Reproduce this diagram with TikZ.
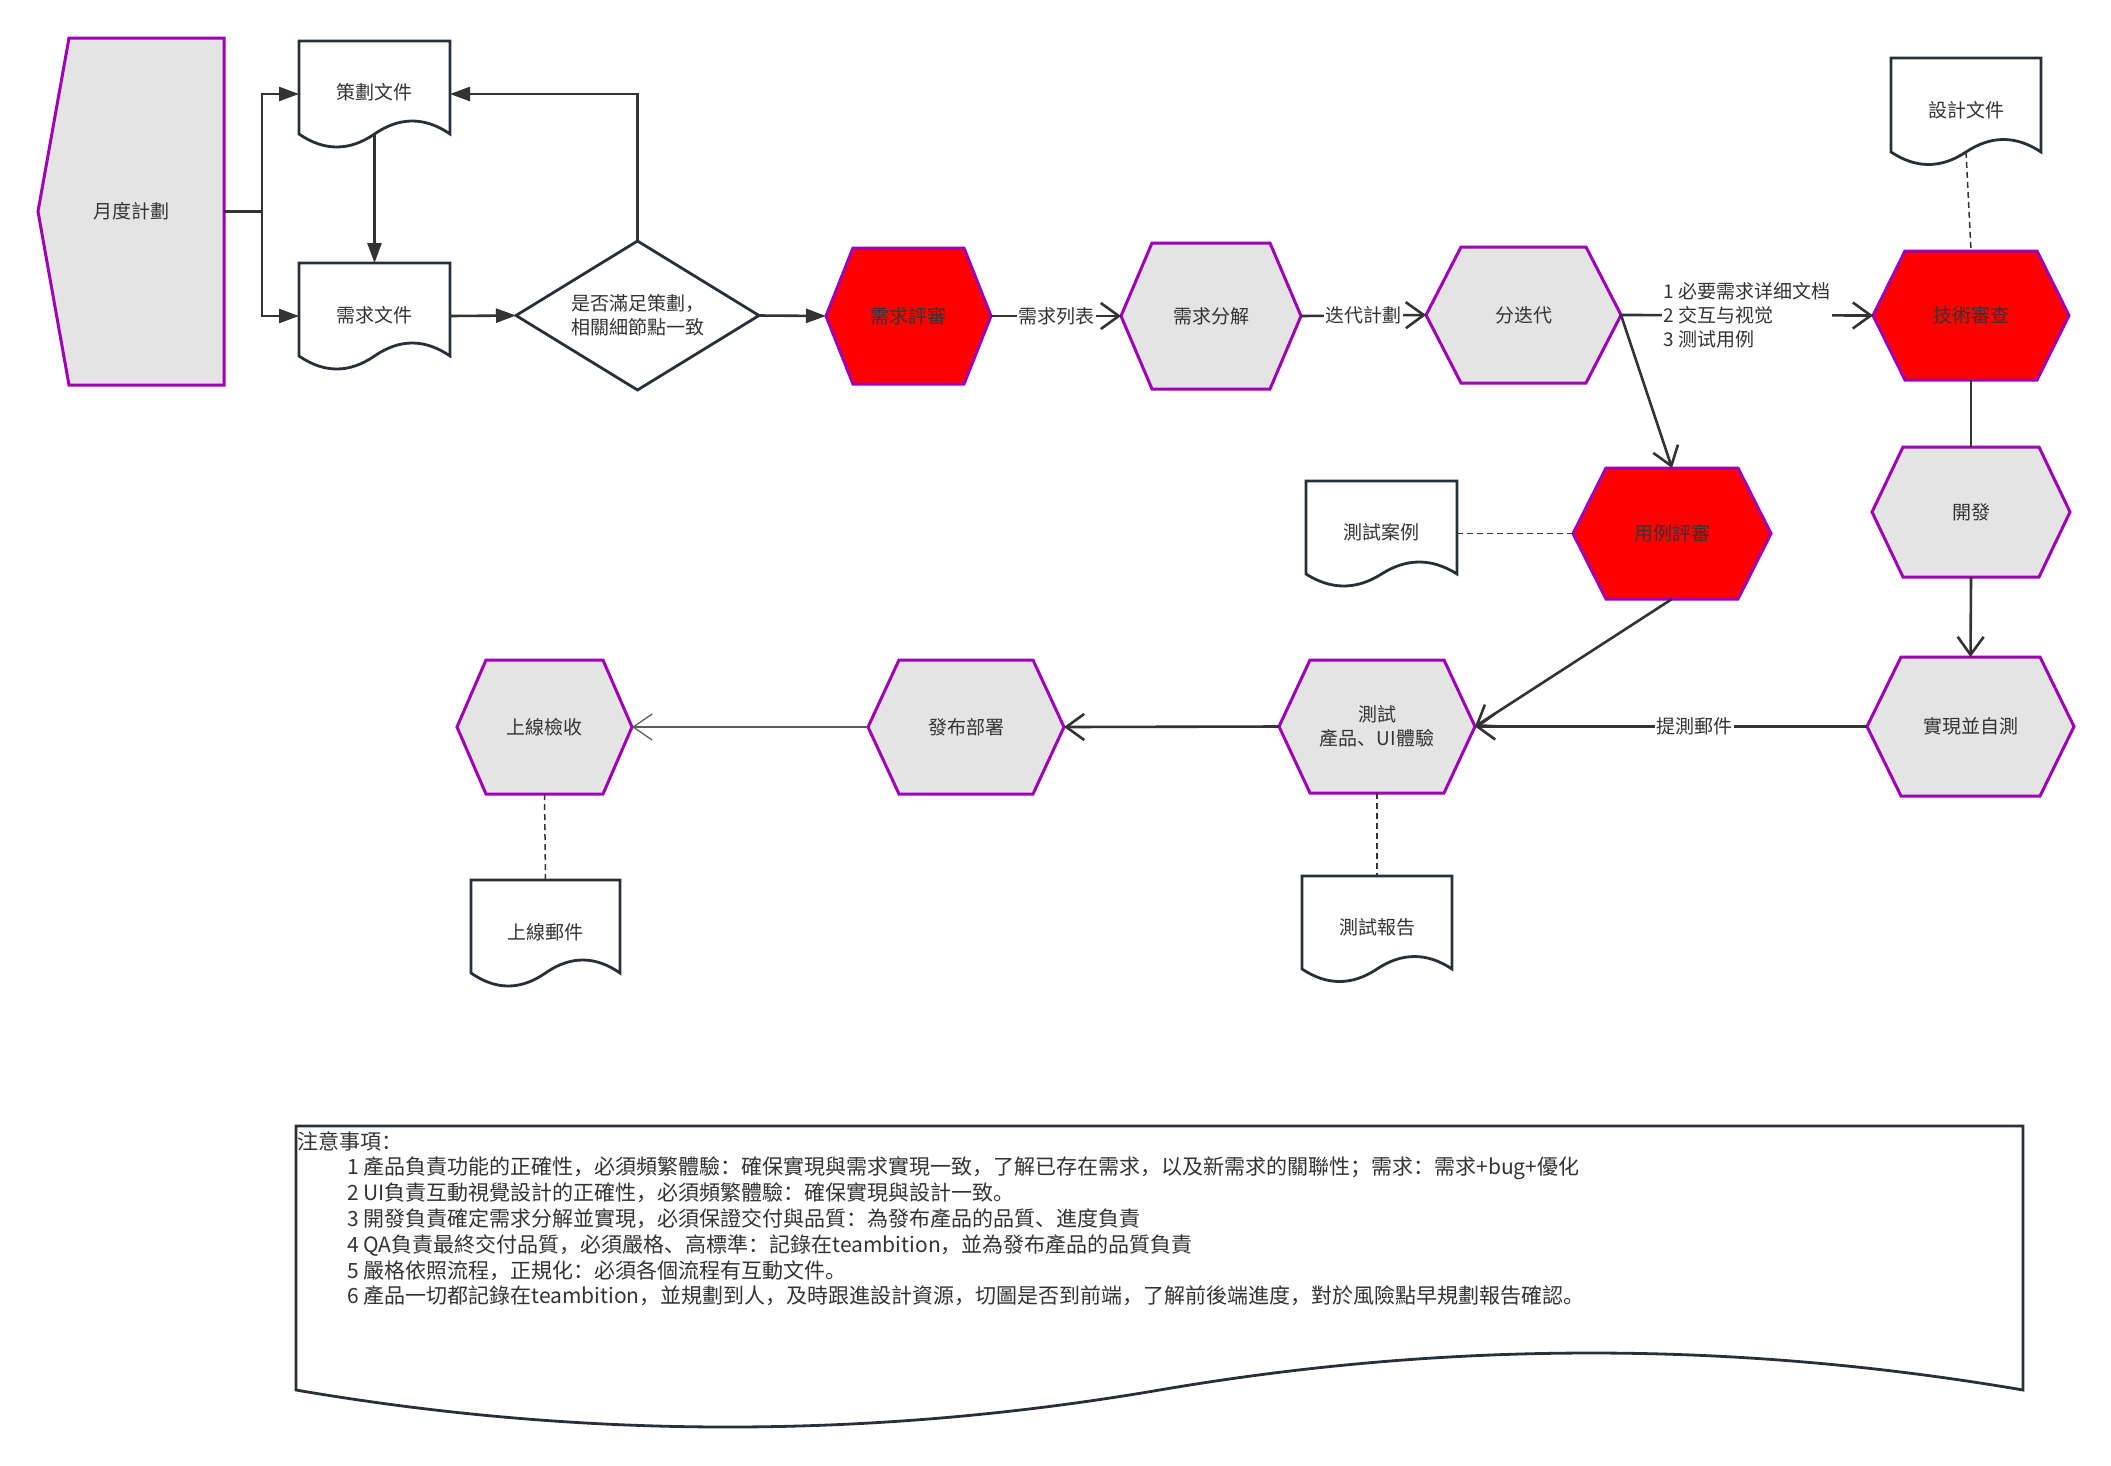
\documentclass[tikz,border=0pt]{standalone}
\usepackage{fontspec}
\setmainfont{Noto Sans CJK SC}
\usetikzlibrary{arrows.meta,calc}
\definecolor{hexpurple}{HTML}{A000B4}
\definecolor{hexgray}{HTML}{E4E4E4}
\definecolor{linegray}{HTML}{333333}
\definecolor{docline}{HTML}{2A2F35}
\definecolor{txt}{HTML}{333333}
\tikzset{
  hexline/.style={draw=hexpurple, line width=3pt, line join=miter},
  docshape/.style={draw=docline, line width=2.8pt, fill=white, line join=miter},
  lbl/.style={inner sep=0pt, outer sep=0pt, text=txt, font=\fontsize{19}{24}\selectfont, align=center},
  conn/.style={draw=linegray, line width=2.6pt},
  farrow/.style={conn, -{Triangle[length=20pt,width=14pt]}},
  oarrow/.style={conn, -{Straight Barb[length=18pt,width=26pt]}},
  thinarrow/.style={draw=linegray!80, line width=1.3pt, -{Straight Barb[length=19pt,width=26pt]}},
  dashline/.style={draw=linegray, line width=1.5pt, dash pattern=on 6pt off 4pt},
  elabel/.style={fill=white, inner sep=1.5pt, text=txt, font=\fontsize{19}{24}\selectfont},
}
\newcommand\mkhex[8]{%
  \draw[hexline, fill=#7] (#2,{(#4+#5)/2}) -- ({#2+#6},#4) -- ({#3-#6},#4) -- (#3,{(#4+#5)/2}) -- ({#3-#6},#5) -- ({#2+#6},#5) -- cycle;
  \pgfmathsetmacro\myhexw{#3-#2}\pgfmathsetmacro\myhexh{#5-#4}%
  \node[lbl, minimum width=\myhexw pt, minimum height=\myhexh pt] (#1) at ({(#2+#3)/2},{(#4+#5)/2}) {#8};
}
\newcommand\mkdoc[8]{%
  \pgfmathsetmacro\mydocw{#3-#2}%
  \draw[docshape] (#2,#4) -- (#3,#4) -- (#3,#5)
     .. controls ({#3-\mydocw/6},{#5-4*#6/3}) and ({#3-\mydocw/3},{#5-4*#6/3}) .. ({(#2+#3)/2},#5)
     .. controls ({#2+\mydocw/3},{#5+4*#6/3}) and ({#2+\mydocw/6},{#5+4*#6/3}) .. (#2,#5) -- cycle;
  \pgfmathsetmacro\mydoch{#5+#6-#4}%
  \node[lbl, minimum width=\mydocw pt, minimum height=\mydoch pt] (#1) at ({(#2+#3)/2},{(#4+#5+#6)/2}) {\raisebox{#7pt}{#8}};
}
\begin{document}
\begin{tikzpicture}[x=1pt,y=-1pt]
\useasboundingbox (0,0) rectangle (2111,1465);

% monthly plan
\draw[hexline, fill=hexgray] (38,211.5) -- (69,38) -- (224,38) -- (224,385) -- (69,385) -- cycle;
\node[lbl, minimum width=186pt, minimum height=347pt] (m) at (131,211.5) {月度計劃};

% documents
\mkdoc{d1}{299}{450}{41}{134}{13}{5}{策劃文件}
\mkdoc{d2}{299}{450}{263}{356}{13}{4}{需求文件}
\mkdoc{d3}{1891}{2041}{58}{152}{12.5}{4}{設計文件}
\mkdoc{d4}{1306}{1457}{481}{574}{12}{4}{測試案例}
\mkdoc{d5}{471}{620}{880}{973}{13}{4}{上線郵件}
\mkdoc{d6}{1302}{1452}{876}{969}{12.5}{5}{測試報告}
\mkdoc{nb}{296}{2023}{1126}{1390}{37}{0}{}

% decision
\draw[docshape] (516,315.5) -- (637.5,241) -- (759,315.5) -- (637.5,390) -- cycle;
\node[lbl, minimum width=243pt, minimum height=149pt] (dm) at (637.5,315.5) {是否滿足策劃，\\相關細節點一致};

% hexagons
\mkhex{r1}{826}{991}{248}{384}{27}{red}{需求評審}
\mkhex{r2}{1121}{1301}{243}{389}{31}{hexgray}{需求分解}
\mkhex{r3}{1426}{1621}{247}{383}{35}{hexgray}{分迭代}
\mkhex{r4}{1873}{2069}{251}{380}{32}{red}{技術審查}
\mkhex{r5}{1573}{1771}{468}{599}{33}{red}{用例評審}
\mkhex{r6}{1872}{2070}{447}{577}{31}{hexgray}{開發}
\mkhex{r7}{1867}{2074}{657}{796}{34}{hexgray}{實現並自測}
\mkhex{r8}{1279}{1475}{660}{793}{31}{hexgray}{測試\\產品、UI體驗}
\mkhex{r9}{868}{1064}{660}{794}{31}{hexgray}{發布部署}
\mkhex{r10}{457}{632}{660}{794}{29}{hexgray}{上線檢收}

% connectors
\draw[farrow] (m.east) -- ++(38,0) |- (d1.west);
\draw[farrow] (m.east) -- ++(38,0) |- (d2.west);
\draw[farrow] ([yshift=13pt]d1.south) -- (d2.north);
\draw[farrow] (d2.east) -- (dm.west);
\draw[farrow] (dm.north) |- (d1.east);
\draw[farrow] (dm.east) -- (r1.west);
\draw[oarrow] (r1.east) -- node[elabel]{需求列表} (r2.west);
\draw[oarrow] (r2.east) -- node[elabel]{迭代計劃} (r3.west);
\draw[oarrow] (r3.east) -- node[elabel, align=left, font=\fontsize{19}{24}\selectfont]{1 必要需求详细文档\\2 交互与视觉\\3 测试用例} (r4.west);
\draw[dashline] ([yshift=12.5pt]d3.south) -- (r4.north);
\draw[conn] (r4.south) -- (r6.north);
\draw[oarrow] (r6.south) -- (r7.north);
\draw[oarrow] (r3.east) -- (r5.north);
\draw[dashline] (d4.east) -- (r5.west);
\draw[oarrow] (r5.south) -- (r8.east);
\draw[oarrow] (r7.west) -- node[elabel, pos=0.44]{提測郵件} (r8.east);
\draw[oarrow] (r8.west) -- (r9.east);
\draw[thinarrow] (r9.west) -- (r10.east);
\draw[dashline] (r8.south) -- (d6.north);
\draw[dashline] (r10.south) -- (d5.north);

% notes
\node[anchor=north west, align=left, inner sep=0pt, text=txt, font=\fontsize{21}{25.8}\selectfont] (notes) at (297,1131) {注意事項：\\
\hspace*{50pt}1 產品負責功能的正確性，必須頻繁體驗：確保實現與需求實現一致，了解已存在需求，以及新需求的關聯性；需求：需求+bug+優化\\
\hspace*{50pt}2 UI負責互動視覺設計的正確性，必須頻繁體驗：確保實現與設計一致。\\
\hspace*{50pt}3 開發負責確定需求分解並實現，必須保證交付與品質：為發布產品的品質、進度負責\\
\hspace*{50pt}4 QA負責最終交付品質，必須嚴格、高標準：記錄在teambition，並為發布產品的品質負責\\
\hspace*{50pt}5 嚴格依照流程，正規化：必須各個流程有互動文件。\\
\hspace*{50pt}6 產品一切都記錄在teambition，並規劃到人，及時跟進設計資源，切圖是否到前端，了解前後端進度，對於風險點早規劃報告確認。};
\end{tikzpicture}
\end{document}
